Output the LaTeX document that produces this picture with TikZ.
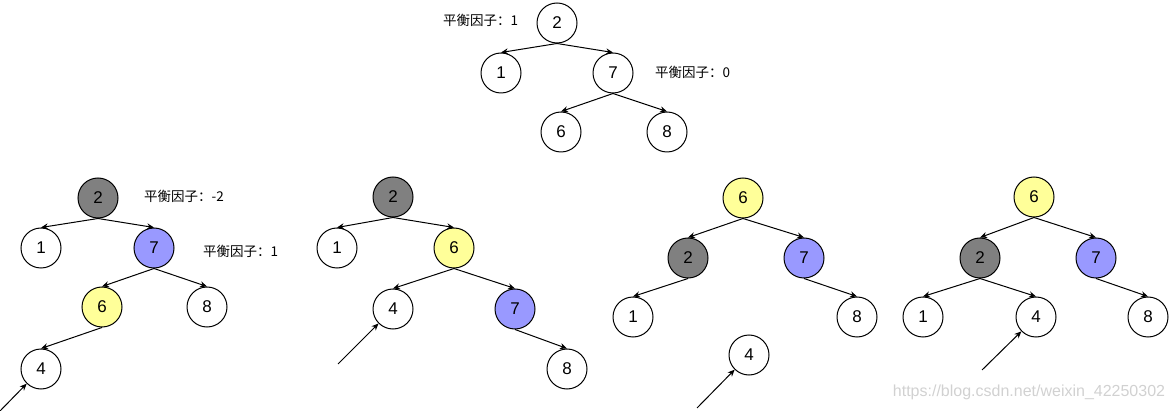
\documentclass[tikz,border=0pt]{standalone}
\usepackage{fontspec}
\setmainfont{Liberation Sans}
\newfontfamily\cjk{Noto Sans CJK SC}
\usepackage{tikz}
\usetikzlibrary{arrows.meta,positioning,calc}
\definecolor{nodegray}{HTML}{808080}
\definecolor{nodeblue}{HTML}{9999FF}
\definecolor{nodeyellow}{HTML}{FFFF99}

\begin{document}
\begin{tikzpicture}[x=1pt,y=-1pt,
    vtx/.style={circle,draw,line width=1pt,minimum size=40pt,inner sep=0pt,fill=white,font=\fontsize{17}{17}\selectfont},
    gvtx/.style={vtx,fill=nodegray},
    bvtx/.style={vtx,fill=nodeblue},
    yvtx/.style={vtx,fill=nodeyellow},
    link/.style={-{Stealth[length=7pt,width=6pt]},line width=1pt},
    bf/.style={anchor=west,inner sep=0pt,font=\cjk\fontsize{13.5}{14}\selectfont}]

    \useasboundingbox (0,0) rectangle (1174,411);

    % before insert
    \node [vtx] (a2) at (557,23) {2};
    \node [vtx] (a1) at (501,73) {1};
    \node [vtx] (a7) at (613,73) {7};
    \node [vtx] (a6) at (561,132) {6};
    \node [vtx] (a8) at (667,132) {8};
    \node [bf] (abf2) at (443,20) {平衡因子：1};
    \node [bf] (abf7) at (655,72) {平衡因子：0};
    \draw [link] (a2.south) -- (a1.north);
    \draw [link] (a2.south) -- (a7.north);
    \draw [link] (a7.south) -- (a6.north);
    \draw [link] (a7.south) -- (a8.north);

    % insert 4
    \node [gvtx] (b2) at (98,198) {2};
    \node [vtx] (b1) at (41,248) {1};
    \node [bvtx] (b7) at (154,248) {7};
    \node [yvtx] (b6) at (102,307) {6};
    \node [vtx] (b8) at (207,307) {8};
    \node [vtx] (b4) at (41,369) {4};
    \coordinate (bs) at (0,411);
    \node [bf] (bbf2) at (144,196) {平衡因子：-2};
    \node [bf] (bbf7) at (203,251) {平衡因子：1};
    \draw [link] (b2.south) -- (b1.north);
    \draw [link] (b2.south) -- (b7.north);
    \draw [link] (b7.south) -- (b6.north);
    \draw [link] (b7.south) -- (b8.north);
    \draw [link] (b6.south) -- (b4.north);
    \draw [link] (bs) -- (b4);

    % right rotation
    \node [gvtx] (c2) at (393,197) {2};
    \node [vtx] (c1) at (337,248) {1};
    \node [yvtx] (c6) at (454,248) {6};
    \node [vtx] (c4) at (393,309) {4};
    \node [bvtx] (c7) at (515,309) {7};
    \node [vtx] (c8) at (567,369) {8};
    \coordinate (cs) at (338,364);
    \draw [link] (c2.south) -- (c1.north);
    \draw [link] (c2.south) -- (c6.north);
    \draw [link] (c6.south) -- (c4.north);
    \draw [link] (c6.south) -- (c7.north);
    \draw [link] (c7.south) -- (c8.north);
    \draw [link] (cs) -- (c4);

    % left rotation
    \node [yvtx] (d6) at (743,198) {6};
    \node [gvtx] (d2) at (688,258) {2};
    \node [bvtx] (d7) at (804,258) {7};
    \node [vtx] (d1) at (633,317) {1};
    \node [vtx] (d8) at (857,317) {8};
    \node [vtx] (d4) at (749,355) {4};
    \coordinate (ds) at (697,408);
    \draw [link] (d6.south) -- (d2.north);
    \draw [link] (d6.south) -- (d7.north);
    \draw [link] (d2.south) -- (d1.north);
    \draw [link] (d7.south) -- (d8.north);
    \draw [link] (ds) -- (d4);

    % result
    \node [yvtx] (e6) at (1034,197) {6};
    \node [gvtx] (e2) at (980,258) {2};
    \node [bvtx] (e7) at (1096,258) {7};
    \node [vtx] (e1) at (923,317) {1};
    \node [vtx] (e4) at (1036,317) {4};
    \node [vtx] (e8) at (1148,317) {8};
    \coordinate (es) at (982,370);
    \draw [link] (e6.south) -- (e2.north);
    \draw [link] (e6.south) -- (e7.north);
    \draw [link] (e2.south) -- (e1.north);
    \draw [link] (e2.south) -- (e4.north);
    \draw [link] (e7.south) -- (e8.north);
    \draw [link] (es) -- (e4);

    \node [text=black!18,font=\fontsize{16}{16}\selectfont] (mark) at (1029,392) {https://blog.csdn.net/weixin\_42250302};
\end{tikzpicture}
\end{document}
